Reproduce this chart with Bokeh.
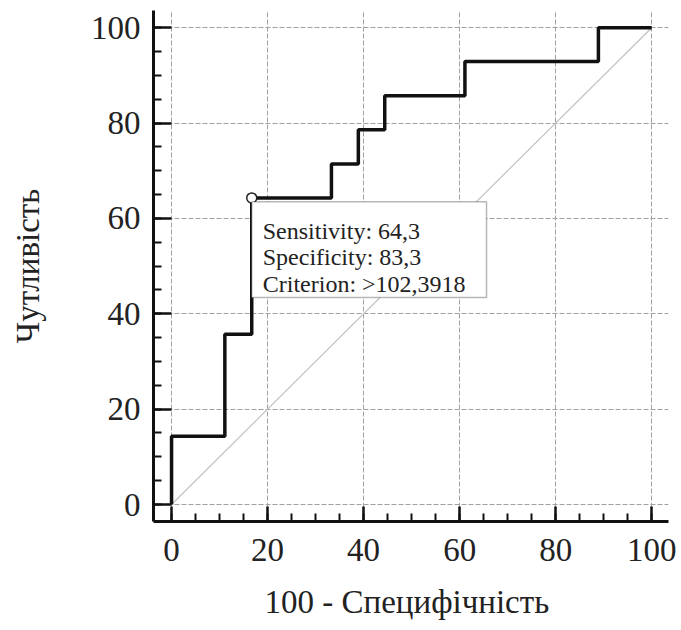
from bokeh.plotting import figure
from bokeh.models import SingleIntervalTicker, BoxAnnotation, Label
from bokeh.embed import file_html
from bokeh.resources import INLINE

# ROC curve corner points (100 - specificity, sensitivity)
fpr = [0, 0, 11.1, 16.7, 33.3, 38.9, 44.4, 61.1, 88.9, 100]
tpr = [0, 14.3, 35.7, 64.3, 71.4, 78.6, 85.7, 92.9, 100, 100]
diag = [0, 100]

cut_fpr = 16.7
cut_tpr = 64.3
box_lines = ["Sensitivity: 64,3", "Specificity: 83,3", "Criterion: >102,3918"]

x_label = "100  - Специфічність"
y_label = "Чутливість"

SERIF = "Liberation Serif"

p = figure(width=681, height=630, x_range=(-3.76, 103.5), y_range=(-3.56, 103.6),
           output_backend="svg", toolbar_location=None,
           min_border_left=153, min_border_right=13, min_border_top=10, min_border_bottom=109)
p.outline_line_color = None
p.background_fill_color = "white"

for ax in (p.xaxis[0], p.yaxis[0]):
    ax.ticker = SingleIntervalTicker(interval=20, num_minor_ticks=4)
    ax.axis_line_width = 3
    ax.axis_line_color = "#111111"
    ax.major_tick_line_width = 2.5
    ax.major_tick_line_color = "#111111"
    ax.minor_tick_line_width = 2
    ax.minor_tick_line_color = "#111111"
    ax.major_tick_out = 0
    ax.minor_tick_out = 0
    ax.minor_tick_in = 8
    ax.major_label_text_font = SERIF
    ax.major_label_text_font_size = "33px"
    ax.major_label_text_color = "#222222"
    ax.axis_label_text_font = SERIF
    ax.axis_label_text_font_size = "33px"
    ax.axis_label_text_font_style = "normal"
    ax.axis_label_text_color = "#222222"

p.xaxis.major_tick_in = 15
p.yaxis.major_tick_in = 18
p.xaxis.major_label_standoff = 17
p.yaxis.major_label_standoff = 13
p.xaxis.axis_label = x_label
p.yaxis.axis_label = y_label
p.xaxis.axis_label_standoff = 20
p.yaxis.axis_label_standoff = 42

for g in (p.xgrid[0], p.ygrid[0]):
    g.grid_line_color = "#a0a0a0"
    g.grid_line_width = 1
    g.grid_line_dash = "5 2"

p.line(diag, diag, line_color="#c4c4c4", line_width=1.3)
p.step(fpr, tpr, mode="after", line_color="#111111", line_width=3.5)
p.scatter([cut_fpr], [cut_tpr], marker="circle", size=10, fill_color="white",
          line_color="#222222", line_width=1.5)

box = BoxAnnotation(left=cut_fpr, right=65.6, top=cut_tpr - 0.8, bottom=43.4,
                    fill_color="white", fill_alpha=1, line_color="#111111", line_width=1.5)
p.add_layout(box)

for i, t in enumerate(box_lines):
    p.add_layout(Label(x=cut_fpr, y=cut_tpr, x_offset=11, y_offset=-33 - 26.5 * i, text=t,
                       text_font=SERIF, text_font_size="24px", text_color="#222222",
                       text_baseline="alphabetic"))

open("out.html", "w").write(file_html(p, INLINE))
